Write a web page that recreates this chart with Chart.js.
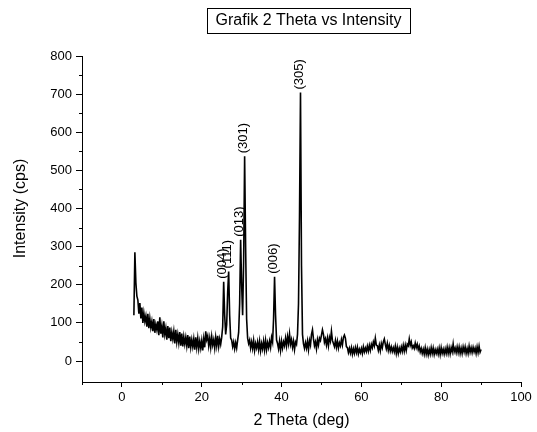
<!DOCTYPE html>
<html><head><meta charset="utf-8">
<script src="https://cdn.jsdelivr.net/npm/chart.js@4.4.1/dist/chart.umd.min.js"></script>
<style>html,body{margin:0;padding:0;background:#fff;}canvas{display:block;}</style>
</head><body>
<canvas id="c" width="537" height="432"></canvas>
<script>
const chartTitle = 'Grafik 2 Theta vs Intensity';
const xTitle = '2 Theta (deg)';
const yTitle = 'Intensity (cps)';
const xTickValues = [0, 20, 40, 60, 80, 100];
const xMinorTicks = [-10, 10, 30, 50, 70, 90];
const yTickValues = [0, 100, 200, 300, 400, 500, 600, 700, 800];
const yMinorTicks = [50, 150, 250, 350, 450, 550, 650, 750];

const twoTheta = [
3,3.25,3.5,3.75, 4,4.25,4.5,4.75, 5,5.25,5.5,5.75, 6,6.25,6.5,6.75, 7,7.25,7.5,7.75,
8,8.25,8.5,8.75, 9,9.25,9.5,9.75, 10,10.25,10.5,10.75, 11,11.25,11.5,11.75, 12,12.25,12.5,12.75,
13,13.25,13.5,13.75, 14,14.25,14.5,14.75, 15,15.25,15.5,15.75, 16,16.25,16.5,16.75, 17,17.25,17.5,17.75,
18,18.25,18.5,18.75, 19,19.25,19.5,19.75, 20,20.25,20.5,20.75, 21,21.25,21.5,21.75, 22,22.25,22.5,22.75,
23,23.25,23.5,23.75, 24,24.25,24.5,24.75, 25,25.25,25.5,25.75, 26,26.25,26.5,26.75, 27,27.25,27.5,27.75,
28,28.25,28.5,28.75, 29,29.25,29.5,29.75, 30,30.25,30.5,30.75, 31,31.25,31.5,31.75, 32,32.25,32.5,32.75,
33,33.25,33.5,33.75, 34,34.25,34.5,34.75, 35,35.25,35.5,35.75, 36,36.25,36.5,36.75, 37,37.25,37.5,37.75,
38,38.25,38.5,38.75, 39,39.25,39.5,39.75, 40,40.25,40.5,40.75, 41,41.25,41.5,41.75, 42,42.25,42.5,42.75,
43,43.25,43.5,43.75, 44,44.25,44.5,44.75, 45,45.25,45.5,45.75, 46,46.25,46.5,46.75, 47,47.25,47.5,47.75,
48,48.25,48.5,48.75, 49,49.25,49.5,49.75, 50,50.25,50.5,50.75, 51,51.25,51.5,51.75, 52,52.25,52.5,52.75,
53,53.25,53.5,53.75, 54,54.25,54.5,54.75, 55,55.25,55.5,55.75, 56,56.25,56.5,56.75, 57,57.25,57.5,57.75,
58,58.25,58.5,58.75, 59,59.25,59.5,59.75, 60,60.25,60.5,60.75, 61,61.25,61.5,61.75, 62,62.25,62.5,62.75,
63,63.25,63.5,63.75, 64,64.25,64.5,64.75, 65,65.25,65.5,65.75, 66,66.25,66.5,66.75, 67,67.25,67.5,67.75,
68,68.25,68.5,68.75, 69,69.25,69.5,69.75, 70,70.25,70.5,70.75, 71,71.25,71.5,71.75, 72,72.25,72.5,72.75,
73,73.25,73.5,73.75, 74,74.25,74.5,74.75, 75,75.25,75.5,75.75, 76,76.25,76.5,76.75, 77,77.25,77.5,77.75,
78,78.25,78.5,78.75, 79,79.25,79.5,79.75, 80,80.25,80.5,80.75, 81,81.25,81.5,81.75, 82,82.25,82.5,82.75,
83,83.25,83.5,83.75, 84,84.25,84.5,84.75, 85,85.25,85.5,85.75, 86,86.25,86.5,86.75, 87,87.25,87.5,87.75,
88,88.25,88.5,88.75, 89,89.25,89.5,89.75, 90
];

const intensity = [
120,285,205,170, 160,124,152,112, 140,100,126,104, 118,90,124,86, 112,88,104,78,
110,74,96,82, 104,68,115,72, 92,62,104,70, 86,56,92,60, 88,52,76,58,
78,46,82,50, 70,48,76,40, 72,38,64,44, 62,40,68,34, 64,36,56,38,
58,30,62,36, 60,32,52,34, 54,28,58,36, 78,56,66,40, 60,36,64,42,
56,34,62,40, 66,38,58,44, 62,90,208,120, 70,95,180,235, 120,60,55,38,
50,32,48,34, 55,75,150,318, 200,120,260,537, 300,110,60,46, 55,34,50,33,
54,28,46,34, 50,30,52,27, 46,32,52,29, 54,30,48,35, 52,36,62,50,
110,221,120,55, 46,32,52,28, 52,34,50,40, 60,40,64,46, 71,44,56,36,
52,30,50,44, 70,150,380,704, 250,70,45,33, 48,34,52,30, 54,42,70,82,
58,40,50,32, 56,42,60,54, 68,82,70,49, 58,42,60,40, 62,52,78,54,
46,38,54,36, 52,34,48,40, 56,42,62,68, 60,38,35,22, 33,21,35,18,
32,20,35,22, 36,19,31,22, 33,20,37,24, 34,25,39,26, 41,28,44,35,
50,40,60,42, 40,28,42,27, 46,35,50,58, 44,32,46,28, 41,26,37,25,
35,24,39,20, 36,20,34,24, 37,25,41,26, 42,28,44,40, 58,41,50,34,
40,33,47,35, 44,30,39,24, 33,20,31,18, 35,18,31,16, 30,18,35,20,
34,17,30,20, 31,18,34,17, 35,20,31,18, 32,20,36,20, 35,19,35,24,
45,24,34,22, 37,22,37,20, 34,20,37,24, 37,20,33,20, 39,23,35,22,
36,24,34,20, 37,22,39,23, 30
];

const peakLabels = ['(004)', '(111)', '(013)', '(301)', '(006)', '(305)'];
const peakTheta = [25.5, 26.75, 29.75, 30.75, 38.25, 44.75];
const peakIntensity = [208, 235, 318, 537, 221, 704];

const FONT = '"Liberation Sans", Arial, sans-serif';
const points = twoTheta.map((t, i) => ({ x: t, y: intensity[i] }));

const decor = {
  id: 'decor',
  afterDraw(chart) {
    const ctx = chart.ctx, xs = chart.scales.x, ys = chart.scales.y;
    ctx.save();
    ctx.strokeStyle = '#000';
    ctx.lineWidth = 1;
    ctx.beginPath();
    xMinorTicks.forEach(v => {
      const px = Math.round(xs.getPixelForValue(v)) + 0.5;
      ctx.moveTo(px, ys.bottom); ctx.lineTo(px, ys.bottom + 3);
    });
    yMinorTicks.forEach(v => {
      const py = Math.round(ys.getPixelForValue(v)) + 0.5;
      ctx.moveTo(xs.left, py); ctx.lineTo(xs.left - 3, py);
    });
    ctx.stroke();

    ctx.fillStyle = '#000';
    ctx.font = '13px ' + FONT;
    ctx.textAlign = 'left';
    ctx.textBaseline = 'middle';
    peakLabels.forEach((t, i) => {
      const px = xs.getPixelForValue(peakTheta[i]);
      const py = ys.getPixelForValue(peakIntensity[i]);
      ctx.save();
      ctx.translate(px - 1, py - 3);
      ctx.rotate(-Math.PI / 2);
      ctx.fillText(t, 0, 0);
      ctx.restore();
    });

    ctx.font = '16px ' + FONT;
    ctx.textAlign = 'center';
    ctx.save();
    const yc = (ys.getPixelForValue(yTickValues[0]) + ys.getPixelForValue(yTickValues[yTickValues.length - 1])) / 2;
    ctx.translate(21, yc);
    ctx.rotate(-Math.PI / 2);
    ctx.fillText(yTitle, 0, 0);
    ctx.restore();

    ctx.fillText(xTitle, (xs.left + xs.right) / 2, 421);

    ctx.font = '16px ' + FONT;
    ctx.strokeRect(207.5, 8.5, 203, 25);
    ctx.fillText(chartTitle, 308.5, 21);
    ctx.restore();
  }
};

new Chart(document.getElementById('c'), {
  type: 'line',
  data: {
    datasets: [{
      data: points,
      borderColor: '#000',
      borderWidth: 1.6,
      pointRadius: 0,
      tension: 0,
      fill: false
    }]
  },
  options: {
    responsive: false,
    devicePixelRatio: 1,
    animation: false,
    parsing: false,
    layout: { padding: { top: 56, right: 16, left: 0, bottom: 0 } },
    plugins: { legend: { display: false }, tooltip: { enabled: false }, title: { display: false } },
    scales: {
      x: {
        type: 'linear', min: -10, max: 100,
        afterBuildTicks: s => { s.ticks = xTickValues.map(v => ({ value: v })); },
        afterFit: s => { s.height = 50; },
        grid: { drawOnChartArea: false, drawTicks: true, tickLength: 5, tickColor: '#000', color: '#000' },
        border: { display: true, color: '#000', width: 1 },
        ticks: { color: '#000', font: { family: FONT, size: 13 }, padding: 3, maxRotation: 0, autoSkip: false }
      },
      y: {
        type: 'linear', min: -55, max: 800,
        afterBuildTicks: s => { s.ticks = yTickValues.map(v => ({ value: v })); },
        afterFit: s => { s.width = 82; },
        grid: { drawOnChartArea: false, drawTicks: true, tickLength: 6, tickColor: '#000', color: '#000' },
        border: { display: true, color: '#000', width: 1 },
        ticks: { color: '#000', font: { family: FONT, size: 13 }, padding: 4, autoSkip: false }
      }
    }
  },
  plugins: [decor]
});
</script>
</body></html>
